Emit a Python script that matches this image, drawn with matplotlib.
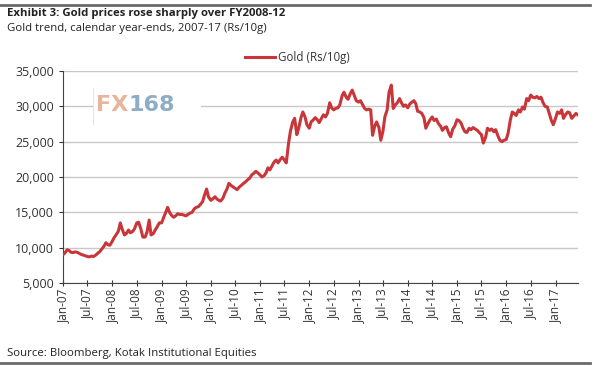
import matplotlib
matplotlib.use("Agg")
import matplotlib.pyplot as plt
import matplotlib.dates as mdates
from matplotlib.patches import Rectangle
from matplotlib.lines import Line2D
import pandas as pd

plt.rcParams['font.family'] = ['Open Sans', 'DejaVu Sans']

title = "Exhibit 3: Gold prices rose sharply over FY2008-12"
subtitle = "Gold trend, calendar year-ends, 2007-17 (Rs/10g)"
source = "Source: Bloomberg, Kotak Institutional Equities"
series_name = "Gold (Rs/10g)"

# semi-monthly readings (1st and 15th of each month), Jan-2007 .. Jun-2017
gold_2007 = [9000, 9250, 9700, 9600, 9350, 9300, 9400, 9350, 9200, 9050, 8950, 8850,
             8750, 8700, 8800, 8750, 8950, 9200, 9450, 9800, 10200, 10700, 10400, 10350]
gold_2008 = [10900, 11400, 11900, 12300, 13500, 12600, 11800, 12000, 12500, 12100, 12300, 12700,
             13500, 13600, 12600, 11500, 11500, 12200, 13900, 11800, 12000, 12500, 13000, 13500]
gold_2009 = [13500, 14200, 15000, 15700, 15000, 14600, 14300, 14500, 14800, 14700, 14700, 14600,
             14500, 14700, 14900, 15000, 15500, 15700, 15800, 16100, 16500, 17400, 18300, 17200]
gold_2010 = [16700, 16900, 17200, 16900, 16700, 16600, 17000, 17700, 18300, 19100, 18800, 18600,
             18400, 18200, 18600, 18800, 19100, 19300, 19600, 19800, 20300, 20500, 20800, 20600]
gold_2011 = [20300, 20000, 20200, 20600, 21300, 21000, 21600, 22100, 22400, 22000, 22500, 22800,
             22400, 22000, 24800, 26500, 27800, 28300, 26000, 26900, 28400, 29200, 28500, 27400]
gold_2012 = [26900, 27800, 28100, 28400, 28100, 27700, 28300, 28800, 28500, 29000, 30500, 29800,
             29500, 29700, 29800, 30200, 31500, 32000, 31300, 31000, 31800, 32300, 31500, 30800]
gold_2013 = [30600, 30800, 30200, 29700, 29500, 29600, 29500, 25900, 27200, 27800, 27000, 25200,
             26500, 28500, 29500, 32000, 33000, 29700, 30200, 30500, 31100, 30500, 30000, 30200]
gold_2014 = [29800, 30300, 30600, 30800, 30400, 29300, 29200, 29000, 28400, 26900, 27600, 28100,
             28500, 28000, 28200, 27600, 27200, 26600, 27000, 27100, 26200, 25700, 26800, 27200]
gold_2015 = [28100, 28000, 27600, 26900, 26400, 26300, 26900, 26700, 27000, 26800, 26600, 26300,
             26000, 24800, 25600, 26900, 26600, 26800, 26400, 26700, 25800, 25200, 25000, 25200]
gold_2016 = [25300, 26200, 28100, 29200, 29000, 28700, 29500, 29200, 29900, 29600, 31100, 30800,
             31600, 31300, 31200, 31400, 31100, 31300, 30500, 30000, 29900, 29000, 28000, 27400]
gold_2017 = [28300, 29200, 29000, 29500, 28300, 28800, 29200, 29100, 28300, 28600, 29000, 28800]

gold = (gold_2007 + gold_2008 + gold_2009 + gold_2010 + gold_2011 + gold_2012 +
        gold_2013 + gold_2014 + gold_2015 + gold_2016 + gold_2017)
dates = pd.date_range("2007-01-01", periods=len(gold), freq="SMS")

y_ticks = [5000, 10000, 15000, 20000, 25000, 30000, 35000]
x_ticks = pd.date_range("2007-01-01", "2017-01-01", freq="6MS")

fig = plt.figure(figsize=(6.0, 3.66), dpi=100)
ax = fig.add_axes([0.105, 0.2268, 0.858, 0.5792])

red = "#C8363A"
ax.plot(dates, gold, color=red, lw=2.2, label=series_name, zorder=3,
        solid_joinstyle='round')

ax.set_ylim(5000, 35000)
ax.set_xlim(pd.Timestamp("2007-01-01"), pd.Timestamp("2017-06-15"))
ax.set_yticks(y_ticks)
ax.yaxis.set_major_formatter(matplotlib.ticker.FuncFormatter(lambda v, p: f"{int(v):,}"))
ax.set_xticks(x_ticks)
ax.xaxis.set_major_formatter(mdates.DateFormatter("%b-%y"))
for lab in ax.get_xticklabels():
    lab.set_rotation(90)
ax.tick_params(axis='x', labelsize=8.5, colors="#333333", direction='inout', length=4, width=0.8, pad=2)
ax.tick_params(axis='y', labelsize=9, colors="#333333", direction='out', length=3, width=0.8)
ax.grid(axis='y', color="#c8c8c8", lw=1.0)
ax.set_axisbelow(True)
for s in ['top', 'right']:
    ax.spines[s].set_visible(False)
ax.spines['left'].set_color("#444444")
ax.spines['bottom'].set_color("#444444")

leg = ax.legend(loc='lower center', bbox_to_anchor=(0.455, 1.01), frameon=False,
                fontsize=8.3, handlelength=2.6, handletextpad=0.3, borderaxespad=0)
for t in leg.get_texts():
    t.set_color("#333333")

# watermark: white panel hiding gridline, faint left border, two-colour text
ax.add_patch(Rectangle((0.058, 0.77), 0.21, 0.13, transform=ax.transAxes,
                       facecolor='white', edgecolor='none', zorder=1.5))
ax.add_line(Line2D([0.058, 0.058], [0.75, 0.92], transform=ax.transAxes,
                   color="#e6e6e6", lw=0.8, zorder=1.6))
wm = ax.text(0.064, 0.84, "FX", transform=ax.transAxes, fontsize=16, fontweight='bold',
             family='DejaVu Sans', color="#E8B49C", va='center', ha='left', zorder=2)
fig.canvas.draw()
bb = wm.get_window_extent()
x_end = ax.transAxes.inverted().transform((bb.x1, bb.y0))[0]
ax.text(x_end, 0.84, "168", transform=ax.transAxes, fontsize=16, fontweight='bold',
        family='DejaVu Sans', color="#8DADC6", va='center', ha='left', zorder=2)

fig.text(0.012, 0.962, title, fontsize=8.2, fontweight='bold', color="#222222", va='center', ha='left')
fig.text(0.012, 0.922, subtitle, fontsize=8.2, color="#222222", va='center', ha='left')
fig.text(0.012, 0.033, source, fontsize=8.2, color="#222222", va='center', ha='left')

fig.add_artist(Line2D([0.0, 0.983], [0.986, 0.986], transform=fig.transFigure,
                      color="#6a6a6a", lw=2.0))
fig.add_artist(Line2D([0.0, 0.983], [0.008, 0.008], transform=fig.transFigure,
                      color="#6a6a6a", lw=2.0))

fig.savefig("out.png", dpi=100, facecolor='white')
